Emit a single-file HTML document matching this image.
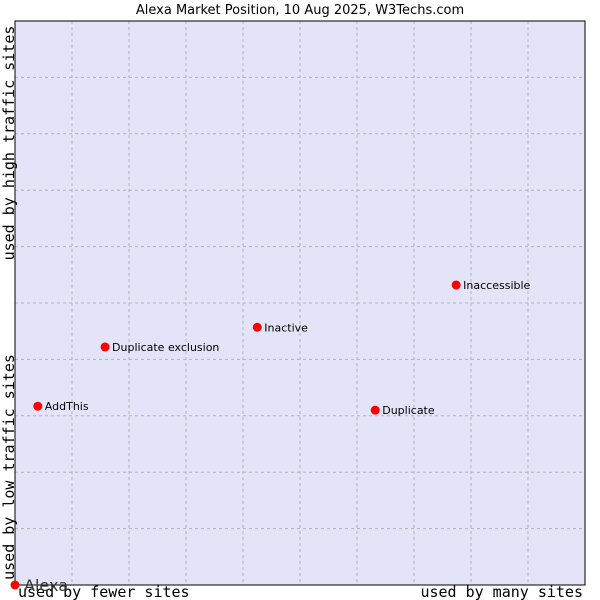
<!DOCTYPE html>
<html><head><meta charset="utf-8"><style>
html,body{margin:0;padding:0;background:#fff;}
svg{display:block;}
</style></head><body>
<svg id="chart" width="600" height="600" xmlns="http://www.w3.org/2000/svg">
<text x="300" y="14" text-anchor="middle" font-family="DejaVu Sans, sans-serif" font-size="13" fill="#000">Alexa Market Position, 10 Aug 2025, W3Techs.com</text>
<rect x="15" y="21" width="570" height="564" fill="#e3e4f8" stroke="none"/>
<g id="grid"></g>
<rect x="15" y="21" width="570" height="564" fill="none" stroke="#000" stroke-width="1"/>
<text transform="translate(14,143) rotate(-90)" text-anchor="middle" font-family="DejaVu Sans Mono, monospace" font-size="15">used by high traffic sites</text>
<text transform="translate(14,467) rotate(-90)" text-anchor="middle" font-family="DejaVu Sans Mono, monospace" font-size="15">used by low traffic sites</text>
<text x="18" y="597" font-family="DejaVu Sans Mono, monospace" font-size="15">used by fewer sites</text>
<text x="583" y="597" text-anchor="end" font-family="DejaVu Sans Mono, monospace" font-size="15">used by many sites</text>
<g id="points"></g>
</svg>
<script>
const names = ["Alexa","AddThis","Duplicate exclusion","Inactive","Duplicate","Inaccessible"];
const xValues = [0, 4.0, 15.8, 42.5, 63.2, 77.4];
const yValues = [0, 31.7, 42.2, 45.7, 31.0, 53.2];
const gridSteps = [1,2,3,4,5,6,7,8,9];
const NS = "http://www.w3.org/2000/svg";
const X0 = 15, X1 = 585, Y0 = 585, Y1 = 21;
function sx(v){ return X0 + (X1 - X0) * v / 100; }
function sy(v){ return Y0 - (Y0 - Y1) * v / 100; }
const grid = document.getElementById('grid');
gridSteps.forEach(s => {
  const v = document.createElementNS(NS,'line');
  v.setAttribute('x1', sx(s*10)); v.setAttribute('x2', sx(s*10));
  v.setAttribute('y1', Y1); v.setAttribute('y2', Y0);
  v.setAttribute('stroke','#b4b4b4'); v.setAttribute('stroke-dasharray','3,3');
  
  
  grid.appendChild(v);
  const h = document.createElementNS(NS,'line');
  h.setAttribute('y1', sy(s*10)); h.setAttribute('y2', sy(s*10));
  h.setAttribute('x1', X0); h.setAttribute('x2', X1);
  h.setAttribute('stroke','#b4b4b4'); h.setAttribute('stroke-dasharray','3,3');
  
  
  grid.appendChild(h);
});
const pts = document.getElementById('points');
names.forEach((n,i) => {
  const cx = sx(xValues[i]), cy = sy(yValues[i]);
  const c = document.createElementNS(NS,'circle');
  c.setAttribute('cx', cx); c.setAttribute('cy', cy); c.setAttribute('r', 4.5);
  c.setAttribute('fill', '#ff0000');
  
  
  pts.appendChild(c);
  const t = document.createElementNS(NS,'text');
  const big = i === 0;
  t.setAttribute('x', cx + (big ? 9 : 7));
  t.setAttribute('y', cy + (big ? 6 : 4));
  t.setAttribute('font-family', 'DejaVu Sans, sans-serif');
  t.setAttribute('font-size', big ? 16 : 11);
  t.setAttribute('fill', big ? '#333' : '#000');
  t.textContent = n;
  
  
  pts.appendChild(t);
});
</script>
</body></html>
